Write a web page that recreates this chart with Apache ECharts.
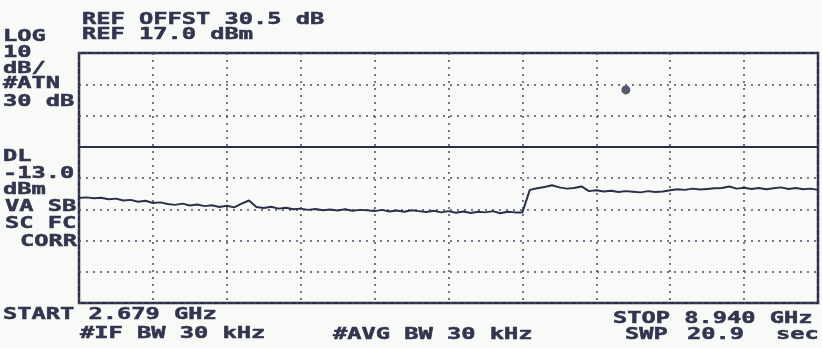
<!DOCTYPE html>
<html>
<head>
<meta charset="utf-8">
<script src="https://cdn.jsdelivr.net/npm/echarts@6/dist/echarts.min.js"></script>
<style>
html,body{margin:0;padding:0;background:#f8faf8;}
#c{width:822px;height:348px;}
</style>
</head>
<body>
<div id="c"></div>
<script>
// Reference level / scale
const refLevelDbm = 17.0;
const dbPerDiv = 10;
const displayLineDbm = -13.0;
const startGHz = 2.679;
const stopGHz = 8.940;

// Trace A (dBm), 101 sweep points across the span
const traceA = [
  -29.4, -29.2, -29.5, -29.3, -29.8, -29.6, -30.2, -30.0, -30.6, -30.3,
  -31.0, -30.8, -31.3, -31.6, -31.2, -31.8, -31.5, -32.0, -31.7, -32.3,
  -31.9, -32.4, -31.2, -30.2, -32.3, -32.6, -32.2, -32.8, -32.5, -33.0,
  -32.8, -33.2, -32.9, -33.3, -33.1, -33.4, -33.0, -33.5, -33.2, -33.3,
  -33.6, -33.2, -33.7, -33.4, -33.8, -33.3, -33.6, -33.9, -33.5, -34.0,
  -33.6, -34.1, -33.7, -34.2, -33.8, -34.0, -33.6, -34.3, -33.8, -34.0,
  -34.0, -26.8, -26.3, -25.9, -25.3, -26.0, -26.4, -26.2, -25.7, -27.2,
  -26.9, -27.3, -27.1, -27.5, -27.2, -27.4, -27.6, -27.2, -27.5, -27.3,
  -26.9, -26.6, -26.8, -26.4, -26.7, -26.5, -26.3, -26.2, -25.7, -26.4,
  -26.1, -26.5, -26.2, -26.6, -26.3, -26.0, -26.5, -26.2, -26.6, -26.4,
  -26.8
];
// Sweep point numbers (x categories)
const sweepPoints = traceA.map((_, i) => i);

// Marker symbol position: [sweep point, dBm]
const markerPoint = [74, 5.2];

// Screen annotations
const annotations = [
  { t: 'REF OFFST 30.5 dB', x: 82, y: 13 },
  { t: 'REF 17.0 dBm', x: 82, y: 28 },
  { t: 'LOG', x: 3, y: 30 },
  { t: '10', x: 3, y: 46 },
  { t: 'dB/', x: 3, y: 62 },
  { t: '#ATN', x: 3, y: 77 },
  { t: '30 dB', x: 3, y: 95 },
  { t: 'DL', x: 3, y: 150 },
  { t: '-13.0', x: 3, y: 167 },
  { t: 'dBm', x: 3, y: 183 },
  { t: 'VA SB', x: 5, y: 200 },
  { t: 'SC FC', x: 5, y: 217 },
  { t: 'CORR', x: 20, y: 235 },
  { t: 'START 2.679 GHz', x: 3, y: 308 },
  { t: '#IF BW 30 kHz', x: 80, y: 327 },
  { t: '#AVG BW 30 kHz', x: 333, y: 328 },
  { t: 'STOP 8.940 GHz', x: 613, y: 312 },
  { t: 'SWP', x: 625, y: 328 },
  { t: '20.9', x: 687, y: 328 },
  { t: 'sec', x: 776, y: 328 }
];

const ink = '#2e2e4a';
const textInk = '#34344f';

const chart = echarts.init(document.getElementById('c'), null, { renderer: 'canvas' });

const graphics = annotations.map(a => ({
  type: 'text',
  x: a.x,
  y: a.y - 1,
  scaleX: 1.48,
  originX: 0,
  style: {
    text: a.t,
    font: 'bold 16px "DejaVu Sans Mono"',
    fill: textInk,
    stroke: textInk,
    lineWidth: 0.5,
    verticalAlign: 'top',
    textVerticalAlign: 'top'
  }
}));

const yMax = refLevelDbm;
const yMin = refLevelDbm - 8 * dbPerDiv;

chart.setOption({
  backgroundColor: '#f8faf8',
  animation: false,
  grid: {
    left: 79, top: 53, width: 739, height: 250,
    show: true, borderColor: ink, borderWidth: 2.5, backgroundColor: 'transparent'
  },
  xAxis: {
    type: 'category',
    data: sweepPoints,
    boundaryGap: false,
    axisLine: { show: false },
    axisTick: { show: false },
    axisLabel: { show: false },
    splitLine: {
      show: true,
      interval: 9,
      lineStyle: { color: '#4a4a64', width: 1.5, type: [2, 5] }
    }
  },
  yAxis: {
    type: 'value',
    min: yMin,
    max: yMax,
    interval: dbPerDiv,
    axisLine: { show: false },
    axisTick: { show: false },
    axisLabel: { show: false },
    splitLine: {
      show: true,
      lineStyle: { color: '#4a4a64', width: 1.5, type: [2, 5] }
    }
  },
  series: [
    {
      type: 'line',
      data: traceA,
      symbol: 'none',
      lineStyle: { color: ink, width: 2 },
      markLine: {
        silent: true,
        symbol: 'none',
        label: { show: false },
        lineStyle: { color: ink, width: 2.2, type: 'solid' },
        data: [{ yAxis: displayLineDbm }]
      }
    },
    {
      type: 'scatter',
      data: [markerPoint],
      symbol: 'circle',
      symbolSize: 9,
      itemStyle: { color: ink }
    }
  ],
  graphic: graphics
});
</script>
</body>
</html>
